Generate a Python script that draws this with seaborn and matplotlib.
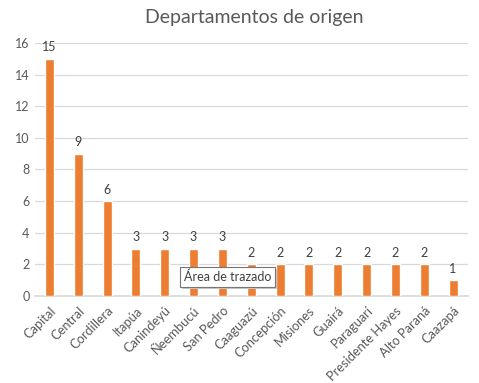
import matplotlib
matplotlib.use("Agg")
import matplotlib.pyplot as plt
import seaborn as sns
import pandas as pd

# datos
departamentos = ["Capital", "Central", "Cordillera", "Itapúa", "Canindeyú", "Ñeembucú",
                 "San Pedro", "Caaguazú", "Concepción", "Misiones", "Guairá", "Paraguarí",
                 "Presidente Hayes", "Alto Paraná", "Caazapá"]
cantidades = [15, 9, 6, 3, 3, 3, 3, 2, 2, 2, 2, 2, 2, 2, 1]

df = pd.DataFrame({"departamento": departamentos, "cantidad": cantidades})

sns.set_theme(style="white")
plt.rcParams["font.family"] = ["Lato", "DejaVu Sans"]

GRIS = "#595959"
NARANJA = "#ED7D31"

fig = plt.figure(figsize=(4.79, 3.83), dpi=100)
ax = fig.add_axes([0.073, 0.227, 0.903, 0.661])

sns.barplot(data=df, x="departamento", y="cantidad", color=NARANJA,
            width=0.31, saturation=1, ax=ax, zorder=3)

for i, v in enumerate(cantidades):
    ax.text(i, v + 0.35, str(v), ha="center", va="bottom", fontsize=9, color="#404040")

ax.set_ylim(0, 16)
ax.set_yticks(range(0, 17, 2))
ax.set_xlim(-0.5, len(departamentos) - 0.5)
ax.grid(axis="y", color="#D9D9D9", linewidth=0.9, zorder=0)
for s in ["top", "right", "left"]:
    ax.spines[s].set_visible(False)
ax.spines["bottom"].set_color("#D9D9D9")
ax.set_xlabel("")
ax.set_ylabel("")
ax.tick_params(axis="y", length=0, labelsize=9, colors=GRIS, pad=4)
ax.tick_params(axis="x", length=0, labelsize=9.3, colors=GRIS, pad=6)
plt.setp(ax.get_xticklabels(), rotation=45, ha="right", rotation_mode="anchor")

fig.text(0.53, 0.955, "Departamentos de origen", ha="center", va="center",
         fontsize=14, color=GRIS)

# tooltip de Excel (con sombra)
fig.text(186 / 479, 1 - 279 / 383, "Área de trazado", ha="left", va="center",
         fontsize=9, color="#BFBFBF", alpha=0.0,
         bbox=dict(boxstyle="square,pad=0.3", facecolor="#C8C8C8", edgecolor="none"))
fig.text(184 / 479, 1 - 277 / 383, "Área de trazado", ha="left", va="center",
         fontsize=9, color="#404040",
         bbox=dict(boxstyle="square,pad=0.3", facecolor="white", edgecolor="#767676",
                   linewidth=0.8))

fig.savefig("out.png", dpi=100)
plt.close(fig)
